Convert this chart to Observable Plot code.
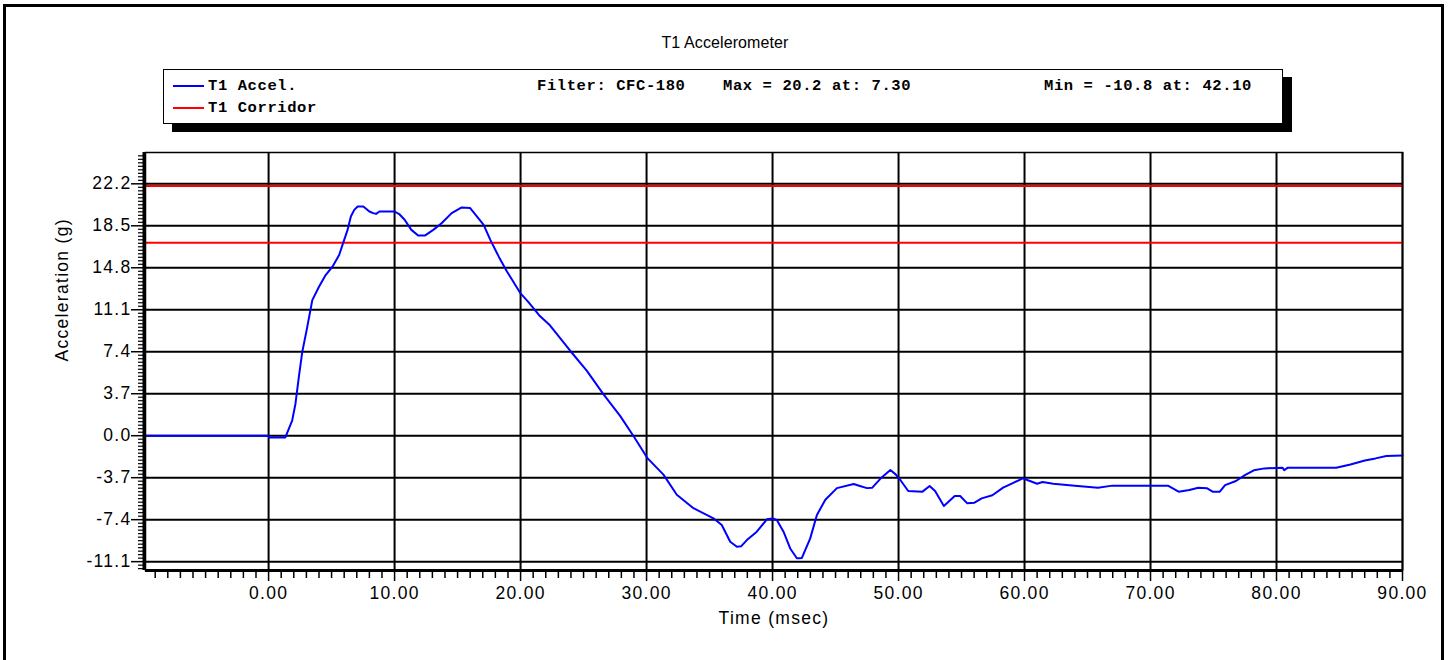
<!DOCTYPE html>
<html>
<head>
<meta charset="utf-8">
<script src="https://cdn.jsdelivr.net/npm/d3@7"></script>
<script src="https://cdn.jsdelivr.net/npm/@observablehq/plot@0.6"></script>
<style>
  html, body { margin: 0; padding: 0; background: #fff; overflow: hidden; }
  #wrap { position: relative; width: 1450px; height: 660px; overflow: hidden; background: #fff; }
  #border { position: absolute; left: 3px; top: 4px; width: 1435px; height: 700px; border: 3px solid #000; }
  #title { position: absolute; left: 0; top: 33px; width: 1450px; text-align: center;
           font-family: "Liberation Sans", Arial, sans-serif; font-size: 16px; letter-spacing: 0.1px; color: #000; line-height: 20px; }
  #legend { position: absolute; left: 163px; top: 69px; width: 1120px; height: 55px; box-sizing: border-box;
            border: 1.5px solid #000; background: #fff; box-shadow: 9px 8px 0 #000;
            font-family: "Liberation Mono", "Courier New", monospace; font-weight: bold; font-size: 15.5px;
            letter-spacing: 0.6px; color: #000; }
  #legend .sw { position: absolute; left: 9px; width: 31px; height: 2px; }
  #legend .tx { position: absolute; line-height: 18px; white-space: pre; }
  #chart { position: absolute; left: 0; top: 0; }
  #chart svg text { letter-spacing: 1.3px; }
</style>
</head>
<body>
<div id="wrap">
  <div id="border"></div>
  <div id="chart"></div>
  <div id="title"></div>
  <div id="legend"></div>
</div>
<script>
// ---- data ----
const seriesName = "T1 Accel.";
const corridorName = "T1 Corridor";
const legendInfo = ["Filter: CFC-180", "Max = 20.2 at: 7.30", "Min = -10.8 at: 42.10"];
const titleText = "T1 Accelerometer";
const xLabel = "Time (msec)";
const yLabel = "Acceleration (g)";

const time = [-9.77, 0, 0.05, 1.33, 1.87, 2.13, 2.4, 2.67, 3.07, 3.47, 4.0, 4.53, 5.07, 5.6, 6.0, 6.27, 6.53, 6.8, 7.07, 7.52,
  8.0, 8.3, 8.53, 8.8, 10.0, 10.4, 10.8, 11.33, 11.87, 12.4, 13.07, 13.73, 14.53, 15.33, 16.0, 16.53, 17.07, 17.6, 18.27, 18.93,
  20.0, 20.61, 21.47, 22.33, 23.92, 25.25, 26.57, 27.9, 28.96, 30.05, 31.34, 32.4, 33.72, 35.31, 35.97, 36.64, 37.17, 37.5, 37.96, 38.75,
  39.55, 40.0, 40.34, 40.87, 41.4, 41.93, 42.1, 42.33, 42.99, 43.52, 44.19, 45.11, 46.44, 46.93, 47.5, 47.92, 48.64, 49.35, 49.77, 50.2,
  50.77, 51.9, 52.47, 52.9, 53.6, 54.46, 54.89, 55.46, 56.03, 56.6, 57.45, 58.3, 59.15, 59.86, 60.43, 61.0, 61.43, 62.28, 63.99, 65.83,
  66.97, 71.38, 72.23, 73.08, 73.79, 74.5, 74.93, 75.5, 75.92, 76.78, 77.49, 78.2, 79.05, 80.47, 80.61, 80.9, 84.74, 85.87, 87.01, 87.86,
  88.72, 90];
const accel = [0, 0, -0.15, -0.15, 1.33, 2.8, 5.16, 7.37, 9.59, 11.95, 13.13, 14.16, 14.9, 15.93, 17.26, 18.14, 19.32, 19.9, 20.2, 20.2,
  19.76, 19.62, 19.55, 19.76, 19.76, 19.5, 19.03, 18.14, 17.64, 17.64, 18.14, 18.73, 19.62, 20.12, 20.06, 19.32, 18.58, 17.26, 15.78, 14.45,
  12.54, 11.8, 10.62, 9.73, 7.51, 5.74, 3.67, 1.75, -0.03, -1.95, -3.43, -5.21, -6.39, -7.28, -7.87, -9.35, -9.79, -9.75, -9.2, -8.46,
  -7.37, -7.3, -7.43, -8.46, -9.94, -10.8, -10.8, -10.77, -9.05, -6.98, -5.65, -4.62, -4.26, -4.43, -4.62, -4.58, -3.7, -3.03, -3.41, -3.99,
  -4.87, -4.93, -4.43, -4.87, -6.19, -5.31, -5.31, -5.96, -5.9, -5.52, -5.25, -4.58, -4.14, -3.76, -3.99, -4.23, -4.08, -4.23, -4.4, -4.58,
  -4.4, -4.4, -4.93, -4.79, -4.58, -4.64, -4.93, -4.93, -4.35, -3.99, -3.47, -3.05, -2.88, -2.82, -3.03, -2.82, -2.82, -2.53, -2.18, -2.0,
  -1.79, -1.74];
const corridor = [22, 17];
const xTicks = [0, 10, 20, 30, 40, 50, 60, 70, 80, 90];
const yTicks = [-11.1, -7.4, -3.7, 0, 3.7, 7.4, 11.1, 14.8, 18.5, 22.2];
const xDomain = [-9.77, 90];
const yDomain = [-11.88, 24.96];

// ---- derived ----
const data = time.map((t, i) => ({t, a: accel[i]}));
const minorX = d3.range(-9, 90.5, 1).filter(v => !xTicks.includes(v));
const yStep = 3.7 / 12;
const minorY = d3.range(-2, 120).filter(k => k % 12 !== 0)
  .map(k => -11.1 + k * yStep).filter(v => v > yDomain[0] && v < yDomain[1]);

const chart = Plot.plot({
  width: 1450, height: 660,
  marginLeft: 145, marginRight: 48, marginTop: 152, marginBottom: 90,
  x: {domain: xDomain},
  y: {domain: yDomain},
  style: {fontFamily: "'Liberation Sans', Arial, sans-serif", fontSize: "17.5px", color: "#000", background: "transparent", overflow: "visible"},
  marks: [
    Plot.gridX(xTicks, {stroke: "#000", strokeOpacity: 1, strokeWidth: 2}),
    Plot.gridY(yTicks, {stroke: "#000", strokeOpacity: 1, strokeWidth: 2}),
    Plot.ruleY(corridor, {stroke: "#ff0000", strokeWidth: 2}),
    Plot.line(data, {x: "t", y: "a", stroke: "#0000ff", strokeWidth: 2}),
    Plot.frame({stroke: "#000", strokeWidth: 1.5}),
    Plot.axisX(minorX, {tickSize: 8, tickFormat: () => "", label: null, strokeWidth: 1.5}),
    Plot.axisX(xTicks, {tickSize: 11, tickPadding: 5, tickFormat: d => d.toFixed(2), label: null, strokeWidth: 1.5}),
    Plot.axisY(minorY, {tickSize: 7, tickFormat: () => "", label: null, strokeWidth: 1.2}),
    Plot.axisY(yTicks, {tickSize: 14, tickPadding: 0, tickFormat: d => d.toFixed(1), label: null, strokeWidth: 1.5}),
    Plot.ruleX([xDomain[0]], {stroke: "#000", strokeWidth: 3, dx: -1.5}),
    Plot.ruleY([yDomain[0]], {stroke: "#000", strokeWidth: 3}),
    Plot.text([xLabel], {frameAnchor: "bottom", dy: 53, fontSize: 17.5}),
    Plot.text([yLabel], {frameAnchor: "left", dx: -83, rotate: -90, fontSize: 17.5})
  ]
});
document.getElementById("chart").appendChild(chart);

// ---- title & legend ----
document.getElementById("title").textContent = titleText;
const legend = document.getElementById("legend");
function add(html) { legend.insertAdjacentHTML("beforeend", html); }
add(`<div class="sw" style="top:15px;background:#0000ff"></div>`);
add(`<div class="sw" style="top:37px;background:#ff0000"></div>`);
add(`<div class="tx" style="left:44px;top:7px">${seriesName}</div>`);
add(`<div class="tx" style="left:44px;top:29px">${corridorName}</div>`);
add(`<div class="tx" style="left:373px;top:7px">${legendInfo[0]}</div>`);
add(`<div class="tx" style="left:559px;top:7px">${legendInfo[1]}</div>`);
add(`<div class="tx" style="left:880px;top:7px">${legendInfo[2]}</div>`);
</script>
</body>
</html>
